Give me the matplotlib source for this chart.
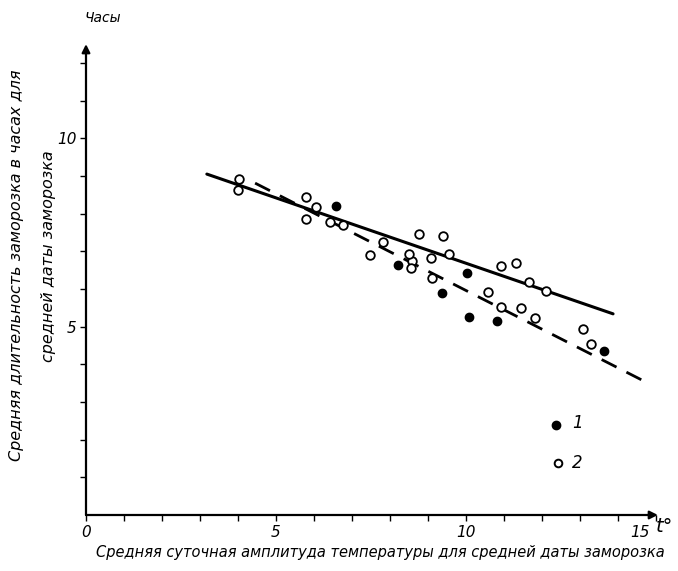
import matplotlib
matplotlib.use("Agg")
import matplotlib.pyplot as plt
import matplotlib.transforms as mtransforms

# ---- data ----
# series 1: filled circles
filled_x = [6.58, 8.21, 9.37, 10.03, 10.08, 10.82, 13.63]
filled_y = [8.20, 6.64, 5.89, 6.42, 5.26, 5.15, 4.35]
# series 2: open circles
open_x = [4.03, 4.00, 5.79, 5.79, 6.42, 8.76, 9.39, 7.47, 8.58, 9.08, 9.55,
          9.11, 10.92, 11.32, 11.66, 12.11,
          6.05, 6.76, 7.82, 8.50, 8.55, 10.58, 10.92, 11.45, 11.82, 13.08, 13.29]
open_y = [8.92, 8.63, 8.44, 7.86, 7.78, 7.46, 7.41, 6.90, 6.74, 6.82, 6.93,
          6.29, 6.61, 6.69, 6.19, 5.95,
          8.18, 7.70, 7.25, 6.93, 6.56, 5.92, 5.52, 5.50, 5.23, 4.94, 4.54]
# regression lines
solid_x = [3.18, 13.87]
solid_y = [9.05, 5.34]
dashed_x = [4.45, 14.79]
dashed_y = [8.81, 3.50]

x_major = [0, 5, 10, 15]
x_labels = ["0", "5", "10", "15"]
y_major = [5, 10]
y_labels = ["5", "10"]

legend_labels = ["1", "2"]

plt.rcParams['font.family'] = ['DejaVu Sans']
plt.rcParams['font.style'] = 'italic'

fig = plt.figure(figsize=(6.78, 5.71), dpi=100)
W, H = 678, 571
x0px, y0px = 86, 515
pxx, pxy = 38.0, 37.67
xmax, ymax = 15.6, 13.2
ax = fig.add_axes([x0px / W, (H - y0px) / H, xmax * pxx / W, ymax * pxy / H])
ax.set_xlim(0, xmax)
ax.set_ylim(0, ymax)
for s in ax.spines.values():
    s.set_visible(False)

# axes with arrows
ax.annotate('', xy=(15.05, 0), xytext=(0, 0),
            arrowprops=dict(arrowstyle='-|>', lw=1.6, color='black',
                            mutation_scale=12, shrinkA=0, shrinkB=0),
            annotation_clip=False)
ax.annotate('', xy=(0, 12.5), xytext=(0, 0),
            arrowprops=dict(arrowstyle='-|>', lw=1.6, color='black',
                            mutation_scale=12, shrinkA=0, shrinkB=0),
            annotation_clip=False)

# ticks
ax.set_xticks(x_major)
ax.set_xticklabels(x_labels, fontsize=11, style='italic')
ax.set_xticks(range(1, 15), minor=True)
ax.set_yticks(y_major)
ax.set_yticklabels(y_labels, fontsize=11, style='italic')
ax.set_yticks(range(1, 13), minor=True)
ax.tick_params(which='both', direction='out', length=4, width=1.0, color='black')
ax.tick_params(axis='x', which='major', pad=3)
ax.tick_params(axis='y', which='major', pad=3)

# shift "15" label left a bit to make room for t°
lab15 = ax.get_xticklabels()[-1]
lab15.set_transform(lab15.get_transform() +
                    mtransforms.ScaledTranslation(-16 / 100, 0, fig.dpi_scale_trans))

# lines
ax.plot(solid_x, solid_y, color='black', lw=2.2, solid_capstyle='round')
ax.plot(dashed_x, dashed_y, color='black', lw=2.0, dashes=(6, 4))

# points
ax.plot(open_x, open_y, 'o', ms=6.2, mfc='white', mec='black', mew=1.3, zorder=3)
ax.plot(filled_x, filled_y, 'o', ms=6.0, mfc='black', mec='black', zorder=3)

# legend (manual, as in the original)
ax.plot([12.37], [2.39], 'o', ms=6.0, mfc='black', mec='black', clip_on=False)
ax.plot([12.42], [1.38], 'o', ms=5.5, mfc='white', mec='black', mew=1.4, clip_on=False)
ax.text(12.80, 2.45, legend_labels[0], fontsize=12, style='italic', va='center', ha='left')
ax.text(12.80, 1.38, legend_labels[1], fontsize=12, style='italic', va='center', ha='left')

# texts
fig.text(103 / W, 1 - 18 / H, "Часы", fontsize=10, style='italic', ha='center', va='center')
fig.text(664 / W, 1 - 527 / H, "t°", fontsize=14, style='italic', ha='center', va='center')
fig.text(380 / W, 1 - 553 / H,
         "Средняя суточная амплитуда температуры для средней даты заморозка",
         fontsize=10.5, style='italic', ha='center', va='center')
fig.text(17 / W, 1 - 265 / H,
         "Средняя длительность заморозка в часах для",
         fontsize=11.5, style='italic', rotation=90, ha='center', va='center')
fig.text(49 / W, 1 - 256 / H,
         "средней даты заморозка",
         fontsize=11.5, style='italic', rotation=90, ha='center', va='center')

fig.savefig("out.png", dpi=100)
